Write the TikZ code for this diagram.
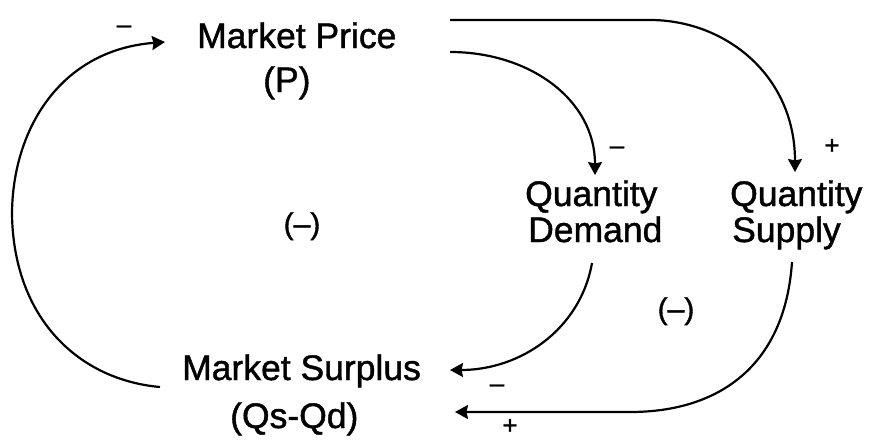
\documentclass[tikz,border=0pt]{standalone}
\usepackage{fontspec}
\setmainfont[FakeBold=1.2]{Liberation Sans}
\usetikzlibrary{arrows.meta}
\tikzset{
  lbl/.style={font=\fontsize{35.5}{40}\selectfont, inner sep=0pt, anchor=base west},
  loop/.style={font=\fontsize{30}{34}\selectfont, inner sep=0pt, anchor=base},
  sgn/.style={font=\fontsize{26}{30}\selectfont, inner sep=0pt, anchor=base},
  link/.style={line width=2.2pt, -{Stealth[length=13pt,width=14pt,inset=1.5pt]}}
}
\begin{document}
\begin{tikzpicture}[x=1pt,y=-1pt]
\useasboundingbox (0,0) rectangle (869,440);
% variables
\node[lbl] (price) at (197,48) {Market Price};
\node[lbl] (priceb) at (263,92) {(P)};
\node[lbl] (qd) at (525,206) {Quantity};
\node[lbl] (qdb) at (528,242) {Demand};
\node[lbl] (qs) at (730,206) {Quantity};
\node[lbl] (qsb) at (732,242) {Supply};
\node[lbl] (surp) at (182,380) {Market Surplus};
\node[lbl] (surpb) at (230,428) {(Qs-Qd)};
% loop labels
\node[loop] (loopA) at (302,234) {(–)};
\node[loop] (loopB) at (676,319) {(–)};
% connector end points
\coordinate (pS) at (450,20);
\coordinate (pD) at (450,52);
\coordinate (sT) at (795,172);
\coordinate (dT) at (595,175);
\coordinate (dS) at (592,263);
\coordinate (sS) at (792,262);
\coordinate (mD) at (450,370);
\coordinate (mS) at (455,412);
\coordinate (mP) at (160,387);
\coordinate (pT) at (165,42);
% connectors
\draw[link] (pS) -- (650,20) .. controls (725,20) and (795,75) .. (sT);
\draw[link] (pD) .. controls (530,52) and (595,100) .. (dT);
\draw[link] (dS) .. controls (580,330) and (520,370) .. (mD);
\draw[link] (sS) .. controls (785,365) and (720,412) .. (630,412) -- (mS);
\draw[link] (mP) .. controls (80,380) and (14,320) .. (12,215) .. controls (12,130) and (60,50) .. (pT);
% polarity signs
\node[sgn] (s1) at (124,33) {–};
\node[sgn] (s2) at (617,154) {–};
\node[sgn] (s3) at (832,154) {+};
\node[sgn] (s4) at (497,392) {–};
\node[sgn] (s5) at (510,434) {+};
\end{tikzpicture}
\end{document}
